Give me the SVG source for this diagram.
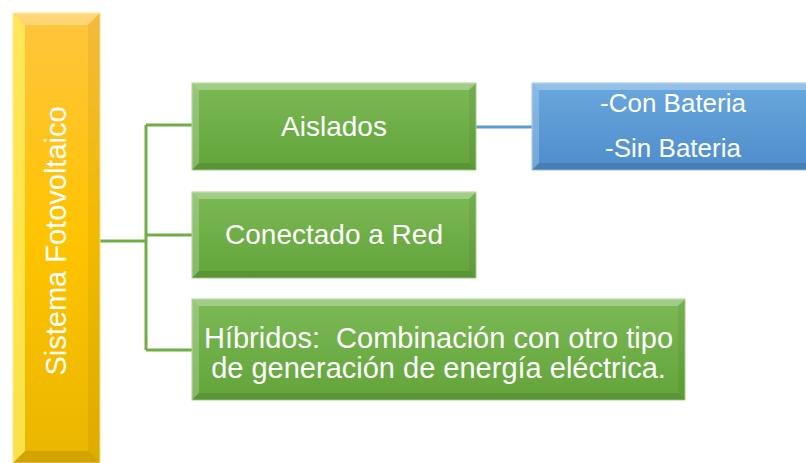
<svg xmlns="http://www.w3.org/2000/svg" width="806" height="463" viewBox="0 0 806 463">
<defs>
<linearGradient id="gy" x1="0" y1="0" x2="0" y2="1">
<stop offset="0" stop-color="#FFC53F"/>
<stop offset="0.5" stop-color="#FFC400"/>
<stop offset="1" stop-color="#E9B600"/>
</linearGradient>
<linearGradient id="gg" x1="0" y1="0" x2="0" y2="1">
<stop offset="0" stop-color="#7BB955"/>
<stop offset="1" stop-color="#63A43A"/>
</linearGradient>
<linearGradient id="gb" x1="0" y1="0" x2="0" y2="1">
<stop offset="0" stop-color="#6AA7DE"/>
<stop offset="1" stop-color="#4E8DCB"/>
</linearGradient>
<style>
.t{fill:#fff;font-family:"Liberation Sans",Arial,sans-serif;text-anchor:middle}
.bt{fill:#fff;opacity:.3}
.bl{fill:#fff;opacity:.22}
.br{fill:#000;opacity:.05}
.bb{fill:#000;opacity:.1}
.yl{fill:#FFF36A;opacity:.7}
.con{fill:none;stroke:#70AD47;stroke-width:3}
</style>
</defs>
<g id="connectors">
<line class="con" x1="100" y1="241" x2="146" y2="241" stroke-width="4"/>
<line class="con" x1="146" y1="125" x2="146" y2="350"/>
<line class="con" x1="146" y1="125" x2="192" y2="125"/>
<line class="con" x1="146" y1="235" x2="192" y2="235"/>
<line class="con" x1="146" y1="350" x2="192" y2="350"/>
<line x1="476" y1="127" x2="532" y2="127" stroke="#5B9BD5" stroke-width="3"/>
</g>
<g id="sistema">
<rect x="13" y="13" width="87" height="450" fill="url(#gy)" stroke="#FFE48A" stroke-width="1"/>
<polygon class="bt" points="13,13 100,13 88,25 25,25"/>
<polygon class="yl" points="13,13 25,25 25,451 13,463"/>
<polygon class="br" points="100,13 100,463 88,451 88,25"/>
<polygon class="bb" points="13,463 100,463 88,451 25,451"/>
<text class="t" font-size="29" transform="translate(66,241) rotate(-90)">Sistema Fotovoltaico</text>
</g>
<g id="aislados">
<rect x="192" y="83" width="284" height="87" fill="url(#gg)" stroke="#A9D18E" stroke-width="1"/>
<polygon class="bt" points="192,83 476,83 469,90 199,90"/>
<polygon class="bl" points="192,83 199,90 199,163 192,170"/>
<polygon class="br" points="476,83 476,170 469,163 469,90"/>
<polygon class="bb" points="192,170 476,170 469,163 199,163"/>
<text class="t" font-size="28" x="334" y="136">Aislados</text>
</g>
<g id="conectado">
<rect x="192" y="192" width="284" height="86" fill="url(#gg)" stroke="#A9D18E" stroke-width="1"/>
<polygon class="bt" points="192,192 476,192 469,199 199,199"/>
<polygon class="bl" points="192,192 199,199 199,271 192,278"/>
<polygon class="br" points="476,192 476,278 469,271 469,199"/>
<polygon class="bb" points="192,278 476,278 469,271 199,271"/>
<text class="t" font-size="28" x="334" y="244">Conectado a Red</text>
</g>
<g id="hibridos">
<rect x="192" y="299" width="493" height="101" fill="url(#gg)" stroke="#A9D18E" stroke-width="1"/>
<polygon class="bt" points="192,299 685,299 678,306 199,306"/>
<polygon class="bl" points="192,299 199,306 199,393 192,400"/>
<polygon class="br" points="685,299 685,400 678,393 678,306"/>
<polygon class="bb" points="192,400 685,400 678,393 199,393"/>
<text class="t" font-size="29" x="438.5" y="348" xml:space="preserve">Híbridos:  Combinación con otro tipo</text>
<text class="t" font-size="29" x="438.5" y="378">de generación de energía eléctrica.</text>
</g>
<g id="bateria">
<rect x="532" y="83" width="282" height="87" fill="url(#gb)" stroke="#9DC3E6" stroke-width="1"/>
<polygon class="bt" points="532,83 814,83 807,90 539,90"/>
<polygon class="bl" points="532,83 539,90 539,163 532,170"/>
<polygon class="bb" points="532,170 814,170 807,163 539,163"/>
<text class="t" font-size="26" x="673" y="112">-Con Bateria</text>
<text class="t" font-size="26" x="673" y="157">-Sin Bateria</text>
</g>
</svg>
